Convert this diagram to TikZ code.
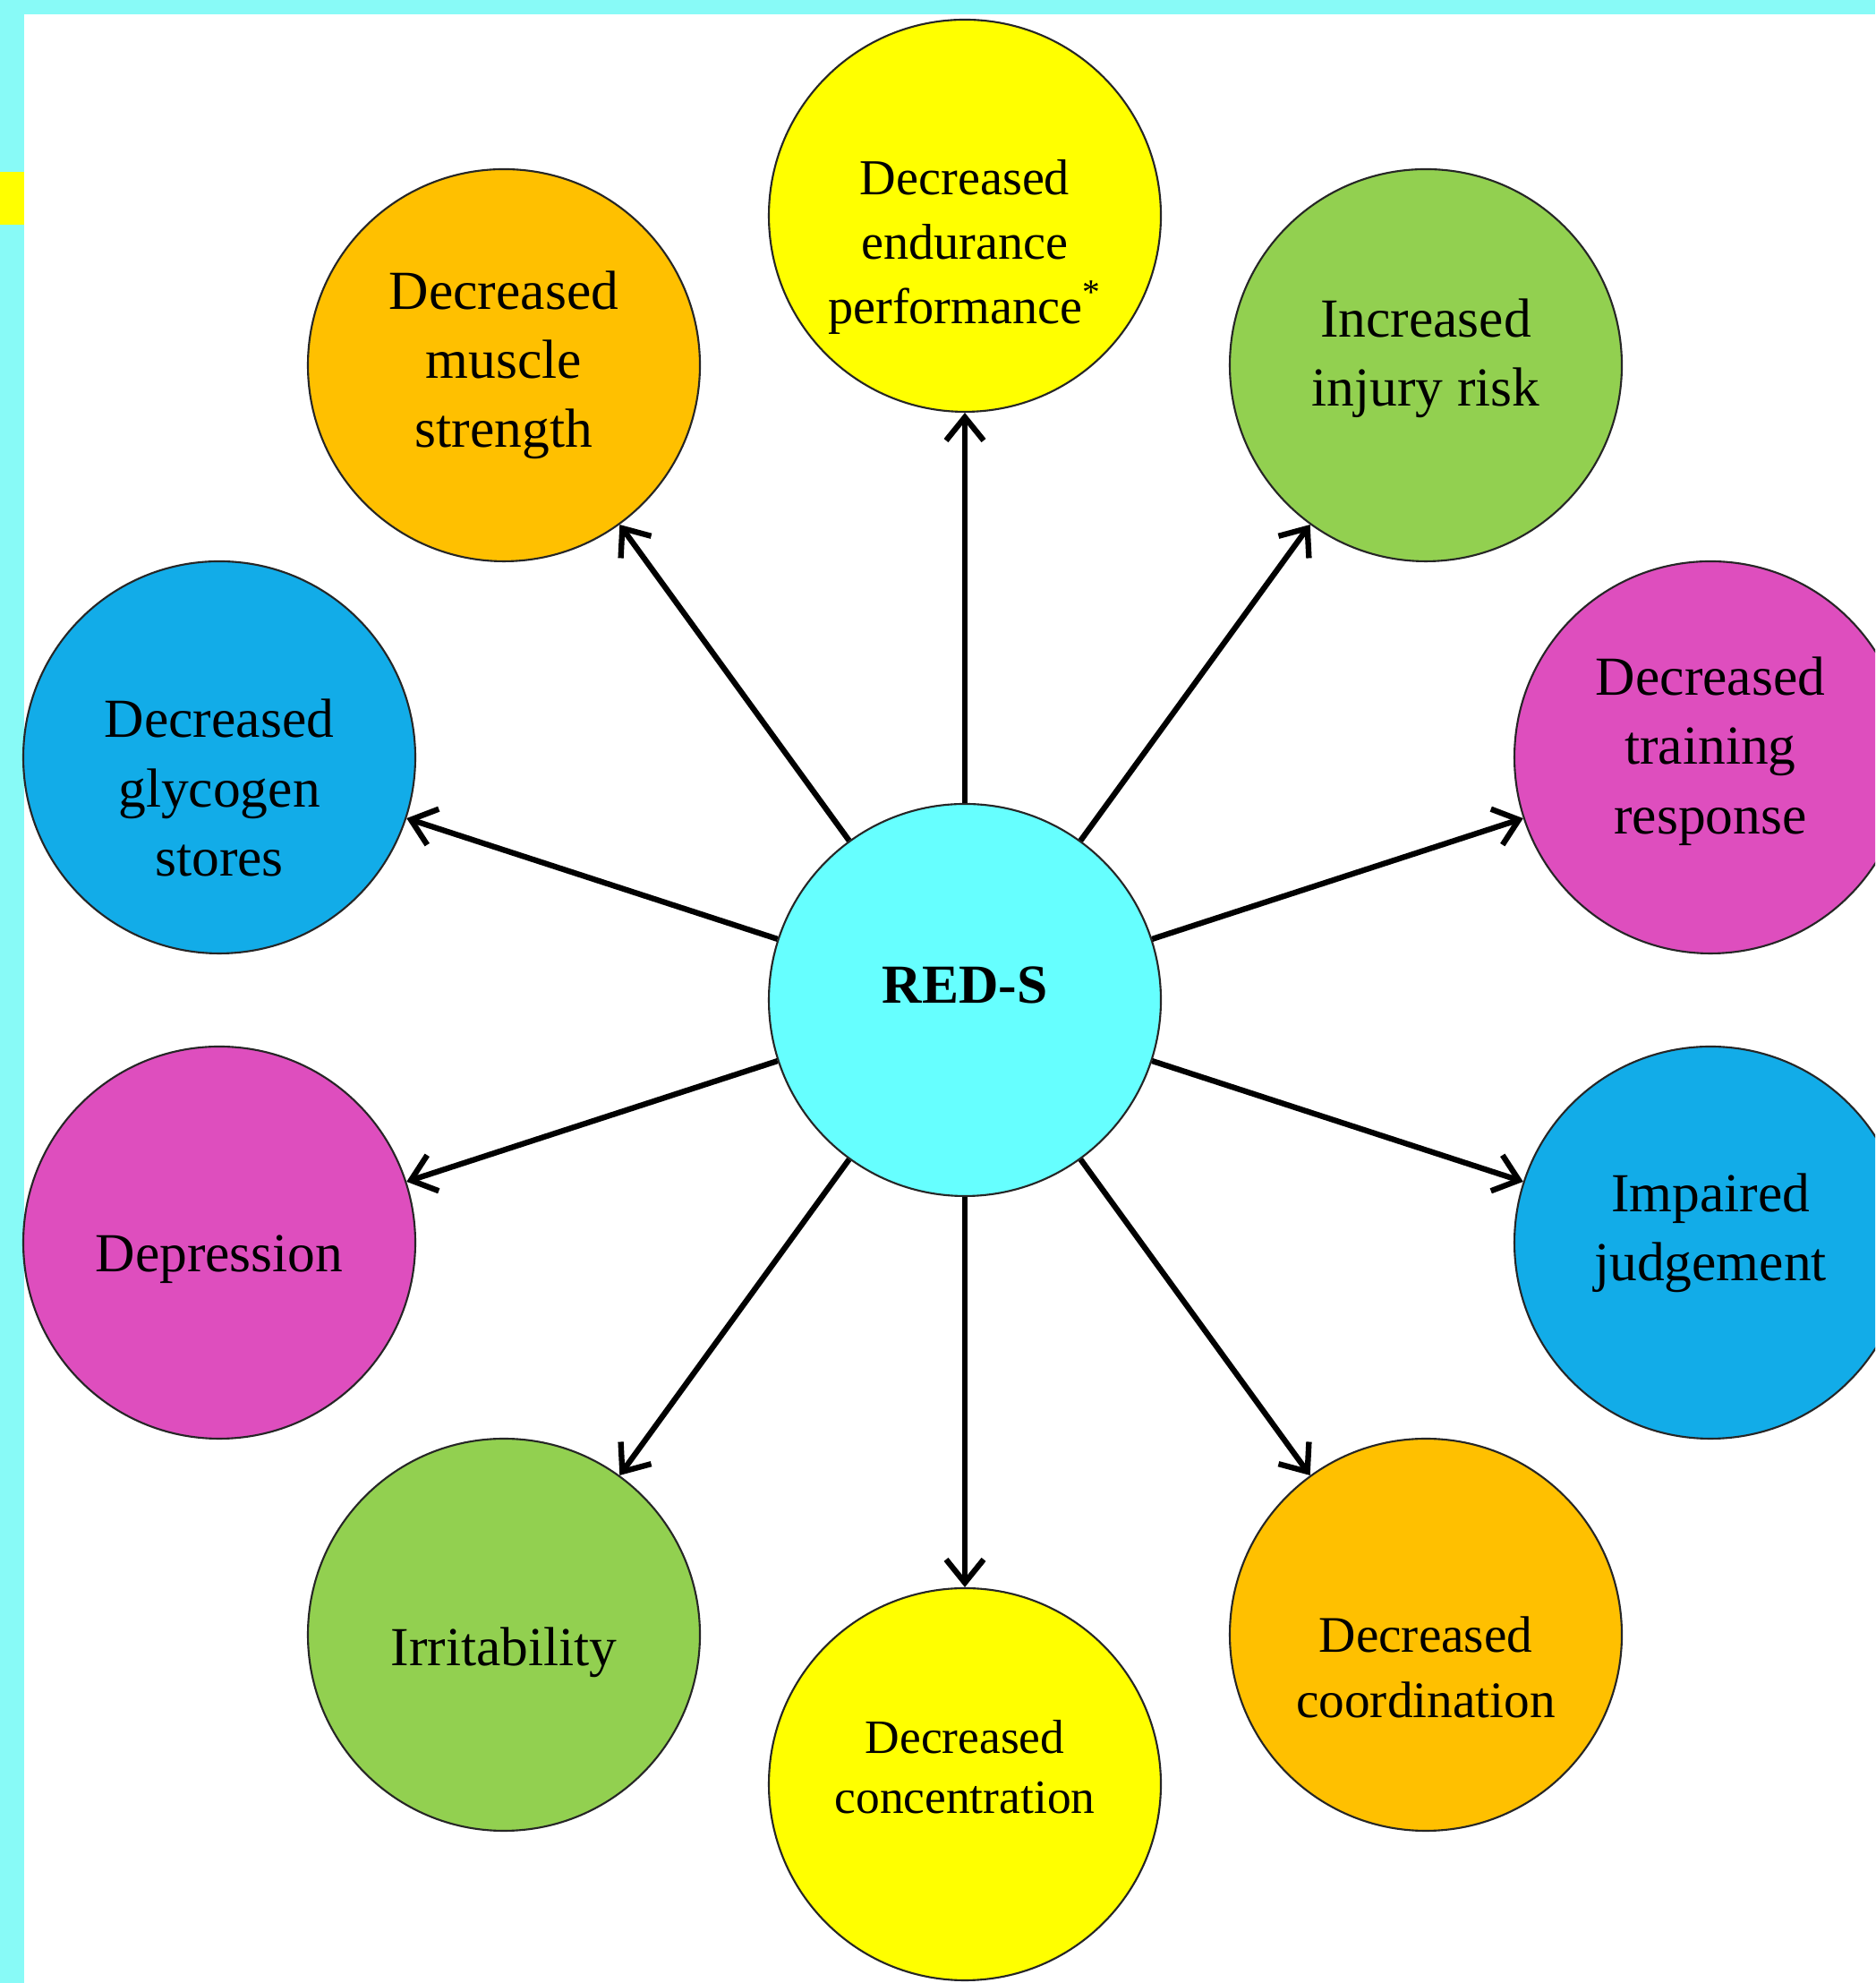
\documentclass[tikz,border=0pt]{standalone}
\usepackage{fontspec}
\setmainfont{Liberation Serif}
\usepackage{xcolor}
\usetikzlibrary{arrows.meta}

\definecolor{framecyan}{RGB}{136,250,247}
\definecolor{redscyan}{RGB}{102,255,255}
\definecolor{sunyellow}{RGB}{255,255,0}
\definecolor{amber}{RGB}{255,192,0}
\definecolor{leafgreen}{RGB}{146,208,80}
\definecolor{orchid}{RGB}{222,78,190}
\definecolor{skyblue}{RGB}{18,172,232}

\begin{document}
\begin{tikzpicture}[bubble/.style={circle, draw=black!85, line width=0.6pt, minimum size=4.38cm, inner sep=0pt},
                    txt/.style={align=center, inner sep=0pt, font=\fontsize{17.5}{22}\selectfont},
                    arr/.style={line width=1.8pt, -{Straight Barb[length=2.6mm,width=4.2mm]}}]
            \useasboundingbox (0,0) rectangle (20.95,22.15);
            \clip (0,0) rectangle (20.95,22.15);
            % frame
            \fill[framecyan] (0,0) rectangle (20.95,22.15);
            \fill[white] (0.27,0) rectangle (20.95,21.99);
            \fill[sunyellow] (0,19.64) rectangle (0.27,20.23);

            \node[bubble, fill=redscyan, label={[txt, font=\bfseries\fontsize{17.5}{22}\selectfont, yshift=1.7mm]center:RED-S}] (reds) at (10.78,10.98) {};

            \node[bubble, fill=sunyellow, label={[txt, font=\fontsize{16}{20.5}\selectfont, yshift=-3.5mm]center:Decreased\\endurance\\performance\textsuperscript{*}}] (endur) at (10.78,19.74) {};
            \node[bubble, fill=leafgreen, label={[txt, yshift=0.8mm]center:Increased\\injury risk}] (injury) at (15.93,18.07) {};
            \node[bubble, fill=orchid, label={[txt, yshift=0.7mm]center:Decreased\\training\\response}] (train) at (19.11,13.69) {};
            \node[bubble, fill=skyblue, label={[txt, yshift=1.1mm]center:Impaired\\judgement}] (judge) at (19.11,8.27) {};
            \node[bubble, fill=amber, label={[txt, font=\fontsize{16.3}{20.8}\selectfont, yshift=-3.6mm]center:Decreased\\coordination}] (coord) at (15.93,3.89) {};
            \node[bubble, fill=sunyellow, label={[txt, font=\fontsize{15.2}{19}\selectfont, yshift=1.9mm]center:Decreased\\concentration}] (concen) at (10.78,2.22) {};
            \node[bubble, fill=leafgreen, label={[txt, yshift=-2mm]center:Irritability}] (irrit) at (5.63,3.89) {};
            \node[bubble, fill=orchid, label={[txt, yshift=-1.9mm]center:Depression}] (depr) at (2.45,8.27) {};
            \node[bubble, fill=skyblue, label={[txt, yshift=-3.4mm]center:Decreased\\glycogen\\stores}] (glyco) at (2.45,13.69) {};
            \node[bubble, fill=amber, label={[txt]center:Decreased\\muscle\\strength}] (muscle) at (5.63,18.07) {};

            \draw[arr] (reds) -- (endur);
            \draw[arr] (reds) -- (injury);
            \draw[arr] (reds) -- (train);
            \draw[arr] (reds) -- (judge);
            \draw[arr] (reds) -- (coord);
            \draw[arr] (reds) -- (concen);
            \draw[arr] (reds) -- (irrit);
            \draw[arr] (reds) -- (depr);
            \draw[arr] (reds) -- (glyco);
            \draw[arr] (reds) -- (muscle);
        \end{tikzpicture}
\end{document}
